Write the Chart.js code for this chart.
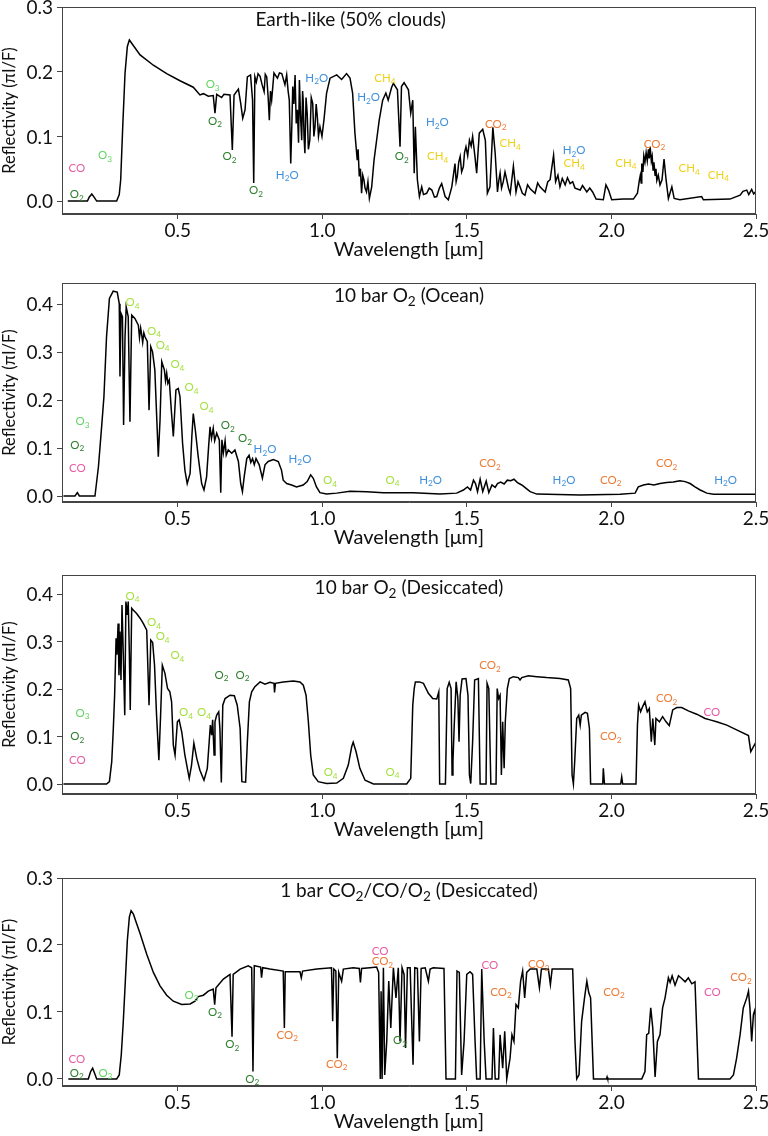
<!DOCTYPE html>
<html>
<head>
<meta charset="utf-8">
<script src="https://cdn.jsdelivr.net/npm/chart.js@4.4.0/dist/chart.umd.min.js"></script>
<style>
  body { margin: 0; background: #fff; }
  #wrap { position: relative; width: 768px; height: 1136px; overflow: hidden; }
  canvas { position: absolute; left: 0; }
</style>
</head>
<body>
<div id="wrap">
  <canvas id="c1" width="768" height="262" style="top:0px"></canvas>
  <canvas id="c2" width="768" height="277" style="top:273px"></canvas>
  <canvas id="c3" width="768" height="277" style="top:565px"></canvas>
  <canvas id="c4" width="768" height="266" style="top:868px"></canvas>
</div>
<script>
// wavelength ticks and reflectivity ticks
var xTicks = [0.5, 1.0, 1.5, 2.0, 2.5];
var yTicks3 = [0.0, 0.1, 0.2, 0.3];
var yTicks4 = [0.0, 0.1, 0.2, 0.3, 0.4];

// spectra: [wavelength (um), reflectivity]
var earthSpec = [[0.12,0],[0.188,0],[0.194,0.006],[0.203,0.011],[0.211,0.006],[0.22,0],[0.289,0],[0.298,0.01],[0.303,0.033],[0.31,0.115],[0.318,0.198],[0.326,0.239],[0.333,0.249],[0.341,0.244],[0.37,0.226],[0.416,0.21],[0.462,0.197],[0.508,0.186],[0.554,0.176],[0.577,0.164],[0.589,0.166],[0.606,0.162],[0.623,0.163],[0.629,0.136],[0.635,0.165],[0.652,0.16],[0.66,0.165],[0.681,0.164],[0.689,0.079],[0.695,0.164],[0.71,0.173],[0.718,0.151],[0.725,0.128],[0.733,0.141],[0.741,0.192],[0.752,0.195],[0.759,0.156],[0.763,0.028],[0.767,0.192],[0.772,0.184],[0.778,0.197],[0.785,0.193],[0.792,0.18],[0.799,0.169],[0.803,0.196],[0.808,0.192],[0.813,0.16],[0.817,0.125],[0.821,0.17],[0.825,0.156],[0.833,0.198],[0.845,0.19],[0.852,0.198],[0.86,0.197],[0.871,0.18],[0.877,0.195],[0.882,0.17],[0.886,0.156],[0.891,0.058],[0.895,0.12],[0.898,0.177],[0.902,0.15],[0.906,0.195],[0.91,0.12],[0.914,0.141],[0.918,0.09],[0.921,0.187],[0.925,0.13],[0.929,0.094],[0.932,0.17],[0.934,0.156],[0.937,0.1],[0.94,0.074],[0.944,0.16],[0.948,0.135],[0.952,0.08],[0.957,0.094],[0.962,0.16],[0.967,0.151],[0.971,0.1],[0.975,0.115],[0.979,0.15],[0.983,0.13],[0.987,0.1],[0.992,0.115],[0.999,0.1],[1.006,0.126],[1.015,0.167],[1.027,0.19],[1.05,0.195],[1.067,0.188],[1.084,0.197],[1.096,0.19],[1.105,0.167],[1.113,0.105],[1.121,0.063],[1.124,0.08],[1.128,0.038],[1.132,0.05],[1.136,0.012],[1.14,0.04],[1.144,0.033],[1.148,0.02],[1.153,0.014],[1.158,0.03],[1.163,0.004],[1.171,0.022],[1.179,0.063],[1.188,0.094],[1.197,0.125],[1.209,0.156],[1.22,0.167],[1.228,0.156],[1.24,0.176],[1.246,0.182],[1.26,0.172],[1.269,0.084],[1.274,0.177],[1.283,0.183],[1.298,0.172],[1.306,0.136],[1.313,0.156],[1.318,0.043],[1.322,0.115],[1.329,0.033],[1.336,0.007],[1.344,0.022],[1.35,0.01],[1.361,0.012],[1.37,0.02],[1.379,0.017],[1.388,0.006],[1.396,0.007],[1.405,0.02],[1.413,0.027],[1.425,0.007],[1.436,0.002],[1.448,0.022],[1.459,0.058],[1.463,0.03],[1.467,0.038],[1.472,0.06],[1.477,0.069],[1.482,0.045],[1.488,0.053],[1.492,0.075],[1.497,0.084],[1.503,0.07],[1.509,0.094],[1.515,0.085],[1.52,0.1],[1.528,0.069],[1.534,0.043],[1.543,0.105],[1.555,0.111],[1.564,0.094],[1.571,0.012],[1.58,0.022],[1.59,0.114],[1.598,0.074],[1.606,0.014],[1.61,0.03],[1.615,0.043],[1.62,0.02],[1.626,0.03],[1.632,0.045],[1.638,0.033],[1.644,0.02],[1.65,0.012],[1.661,0.054],[1.67,0.014],[1.677,0.03],[1.684,0.022],[1.692,0.012],[1.701,0.009],[1.71,0.025],[1.719,0.019],[1.736,0.012],[1.745,0.028],[1.753,0.022],[1.771,0.014],[1.78,0.03],[1.788,0.033],[1.8,0.071],[1.807,0.03],[1.815,0.04],[1.822,0.022],[1.83,0.035],[1.84,0.025],[1.848,0.036],[1.857,0.027],[1.866,0.03],[1.874,0.02],[1.892,0.017],[1.9,0.024],[1.915,0.014],[1.925,0.02],[1.935,0.014],[1.947,0.003],[1.972,0.002],[1.981,0.025],[1.99,0.017],[2.001,0.002],[2.041,0.003],[2.076,0.003],[2.09,0.012],[2.097,0.033],[2.1,0.04],[2.103,0.028],[2.105,0.058],[2.109,0.045],[2.112,0.07],[2.116,0.06],[2.12,0.075],[2.124,0.062],[2.128,0.08],[2.131,0.066],[2.134,0.084],[2.138,0.062],[2.141,0.069],[2.144,0.048],[2.147,0.06],[2.151,0.04],[2.154,0.05],[2.157,0.032],[2.162,0.04],[2.168,0.025],[2.175,0.033],[2.182,0.065],[2.189,0.033],[2.197,0.004],[2.209,0.022],[2.217,0.004],[2.237,0.002],[2.312,0.007],[2.318,0.002],[2.41,0.003],[2.445,0.009],[2.455,0.015],[2.468,0.017],[2.475,0.01],[2.485,0.018],[2.492,0.011],[2.5,0.015]];

var oceanSpec = [[0.105,0],[0.145,0],[0.153,0.007],[0.16,0],[0.214,0],[0.226,0.061],[0.237,0.144],[0.245,0.207],[0.254,0.332],[0.264,0.412],[0.277,0.427],[0.291,0.425],[0.298,0.401],[0.3005,0.249],[0.304,0.381],[0.309,0.374],[0.313,0.148],[0.318,0.332],[0.322,0.394],[0.329,0.374],[0.335,0.155],[0.341,0.377],[0.352,0.37],[0.364,0.356],[0.368,0.33],[0.372,0.35],[0.375,0.339],[0.379,0.32],[0.383,0.34],[0.387,0.332],[0.395,0.322],[0.401,0.179],[0.407,0.311],[0.413,0.301],[0.421,0.263],[0.427,0.172],[0.433,0.082],[0.439,0.158],[0.445,0.28],[0.454,0.263],[0.458,0.24],[0.462,0.256],[0.466,0.235],[0.471,0.242],[0.478,0.179],[0.485,0.124],[0.494,0.221],[0.502,0.224],[0.508,0.207],[0.517,0.11],[0.525,0.054],[0.533,0.026],[0.543,0.047],[0.549,0.124],[0.554,0.172],[0.561,0.138],[0.571,0.082],[0.583,0.026],[0.591,0.0125],[0.6,0.04],[0.607,0.103],[0.612,0.144],[0.617,0.12],[0.623,0.141],[0.628,0.115],[0.635,0.131],[0.644,0.117],[0.649,0.007],[0.653,0.117],[0.658,0.09],[0.664,0.115],[0.668,0.085],[0.675,0.096],[0.687,0.089],[0.698,0.096],[0.71,0.072],[0.718,0.026],[0.724,0.009],[0.73,0.04],[0.739,0.078],[0.747,0.085],[0.753,0.07],[0.759,0.078],[0.765,0.065],[0.771,0.078],[0.782,0.065],[0.793,0.037],[0.802,0.065],[0.813,0.072],[0.831,0.076],[0.848,0.072],[0.859,0.054],[0.865,0.033],[0.877,0.026],[0.894,0.023],[0.911,0.019],[0.934,0.023],[0.948,0.03],[0.96,0.044],[0.969,0.037],[0.98,0.019],[0.992,0.007],[1.015,0.004],[1.05,0.006],[1.096,0.01],[1.154,0.009],[1.211,0.007],[1.315,0.007],[1.407,0.004],[1.465,0.006],[1.488,0.0125],[1.502,0.019],[1.513,0.0125],[1.523,0.033],[1.53,0.026],[1.537,0.009],[1.546,0.035],[1.555,0.009],[1.567,0.031],[1.576,0.007],[1.587,0.023],[1.598,0.018],[1.606,0.026],[1.617,0.029],[1.629,0.025],[1.64,0.033],[1.652,0.032],[1.663,0.035],[1.675,0.028],[1.69,0.023],[1.705,0.016],[1.719,0.009],[1.742,0.004],[1.892,0.002],[2.03,0.0035],[2.082,0.006],[2.093,0.019],[2.111,0.023],[2.128,0.025],[2.147,0.023],[2.168,0.026],[2.191,0.028],[2.214,0.029],[2.237,0.032],[2.255,0.03],[2.272,0.026],[2.289,0.019],[2.307,0.0125],[2.33,0.006],[2.353,0.0035],[2.5,0.0035]];

var dryO2Spec = [[0.105,0],[0.254,0],[0.264,0.005],[0.272,0.047],[0.2775,0.117],[0.282,0.187],[0.287,0.307],[0.29,0.272],[0.294,0.338],[0.297,0.229],[0.3005,0.321],[0.304,0.219],[0.3075,0.377],[0.312,0.272],[0.317,0.145],[0.321,0.384],[0.326,0.356],[0.329,0.384],[0.333,0.272],[0.336,0.156],[0.341,0.37],[0.347,0.366],[0.358,0.359],[0.37,0.349],[0.381,0.338],[0.393,0.324],[0.401,0.166],[0.407,0.303],[0.4135,0.298],[0.42,0.25],[0.427,0.145],[0.435,0.05],[0.441,0.145],[0.447,0.25],[0.456,0.233],[0.465,0.201],[0.473,0.194],[0.479,0.173],[0.485,0.082],[0.491,0.061],[0.499,0.131],[0.505,0.135],[0.514,0.11],[0.525,0.061],[0.54,0.012],[0.548,0.04],[0.556,0.086],[0.566,0.054],[0.577,0.029],[0.591,0.008],[0.6025,0.033],[0.609,0.089],[0.613,0.124],[0.6175,0.103],[0.621,0.135],[0.626,0.061],[0.629,0.131],[0.635,0.145],[0.642,0.152],[0.646,0.117],[0.651,0.003],[0.656,0.166],[0.664,0.18],[0.681,0.187],[0.696,0.186],[0.706,0.166],[0.716,0.117],[0.722,0.005],[0.735,0.004],[0.741,0.089],[0.748,0.173],[0.756,0.194],[0.767,0.205],[0.785,0.215],[0.802,0.21],[0.819,0.214],[0.833,0.212],[0.835,0.193],[0.838,0.212],[0.865,0.215],[0.9,0.217],[0.923,0.215],[0.9345,0.208],[0.944,0.187],[0.952,0.131],[0.96,0.061],[0.969,0.019],[0.986,0.005],[1.015,0.001],[1.05,0.002],[1.073,0.012],[1.09,0.04],[1.102,0.079],[1.107,0.088],[1.117,0.068],[1.13,0.033],[1.148,0.008],[1.177,0],[1.292,0],[1.306,0.012],[1.313,0.166],[1.318,0.201],[1.322,0.215],[1.336,0.215],[1.35,0.212],[1.367,0.191],[1.382,0.18],[1.396,0.179],[1.403,0.194],[1.406,0],[1.426,0],[1.432,0.201],[1.439,0.214],[1.4455,0.201],[1.449,0.019],[1.452,0.047],[1.456,0.117],[1.463,0.215],[1.469,0.18],[1.473,0.089],[1.477,0.187],[1.4835,0.221],[1.497,0.222],[1.504,0.187],[1.509,0.019],[1.5135,0.001],[1.52,0.089],[1.527,0.219],[1.54,0.222],[1.546,0],[1.5665,0],[1.57,0.212],[1.576,0.201],[1.583,0],[1.601,0],[1.605,0.201],[1.61,0.18],[1.615,0.187],[1.6195,0.019],[1.624,0.131],[1.629,0.033],[1.633,0.131],[1.64,0.201],[1.647,0.222],[1.661,0.226],[1.678,0.224],[1.684,0.219],[1.69,0.224],[1.713,0.228],[1.742,0.226],[1.776,0.224],[1.822,0.222],[1.851,0.219],[1.859,0.201],[1.864,0.019],[1.8685,0],[1.873,0.047],[1.88,0.138],[1.887,0.145],[1.892,0.124],[1.896,0.145],[1.909,0.151],[1.917,0.149],[1.924,0.117],[1.928,0],[1.97,0],[1.972,0.033],[1.976,0],[2.032,0],[2.0356,0.015],[2.039,0],[2.085,0],[2.09,0.124],[2.094,0.166],[2.101,0.152],[2.108,0.163],[2.116,0.173],[2.124,0.152],[2.131,0.159],[2.138,0.089],[2.143,0.138],[2.15,0.082],[2.154,0.138],[2.166,0.131],[2.177,0.142],[2.189,0.131],[2.2,0.123],[2.212,0.156],[2.226,0.161],[2.243,0.161],[2.266,0.154],[2.295,0.147],[2.324,0.138],[2.341,0.135],[2.364,0.131],[2.399,0.124],[2.433,0.114],[2.474,0.102],[2.482,0.068],[2.489,0.076],[2.496,0.084],[2.5,0.079]];

var co2Spec = [[0.122,0],[0.191,0],[0.199,0.011],[0.206,0.016],[0.213,0.008],[0.22,0],[0.289,0],[0.298,0.006],[0.305,0.036],[0.312,0.086],[0.319,0.146],[0.326,0.207],[0.333,0.242],[0.339,0.251],[0.347,0.246],[0.358,0.232],[0.37,0.217],[0.393,0.186],[0.416,0.159],[0.439,0.139],[0.462,0.125],[0.485,0.116],[0.514,0.111],[0.543,0.112],[0.56,0.116],[0.571,0.123],[0.589,0.125],[0.606,0.131],[0.623,0.134],[0.628,0.111],[0.6325,0.136],[0.658,0.149],[0.681,0.156],[0.688,0.063],[0.692,0.156],[0.716,0.164],[0.744,0.169],[0.756,0.166],[0.7604,0.011],[0.765,0.169],[0.787,0.167],[0.79,0.151],[0.794,0.166],[0.819,0.164],[0.865,0.161],[0.869,0.076],[0.872,0.16],[0.923,0.16],[0.9275,0.151],[0.932,0.161],[0.981,0.164],[1.032,0.166],[1.036,0.086],[1.04,0.164],[1.047,0.161],[1.052,0.031],[1.057,0.159],[1.067,0.146],[1.073,0.164],[1.107,0.166],[1.128,0.165],[1.132,0.144],[1.136,0.165],[1.165,0.166],[1.188,0.167],[1.195,0.159],[1.2007,0],[1.2035,0.131],[1.207,0],[1.2115,0.166],[1.216,0.006],[1.223,0.056],[1.23,0.146],[1.237,0.076],[1.246,0.166],[1.255,0.121],[1.263,0.166],[1.269,0.056],[1.276,0.166],[1.283,0.156],[1.288,0.046],[1.2945,0.166],[1.304,0.166],[1.308,0.106],[1.314,0.021],[1.32,0.166],[1.329,0.165],[1.336,0.056],[1.342,0.165],[1.356,0.166],[1.367,0.146],[1.373,0.164],[1.384,0.166],[1.421,0.165],[1.428,0],[1.4605,0],[1.466,0.161],[1.474,0.159],[1.482,0.006],[1.4905,0.056],[1.4997,0.156],[1.511,0.16],[1.52,0.156],[1.5285,0.056],[1.534,0],[1.546,0],[1.5515,0.164],[1.56,0.056],[1.5665,0],[1.587,0],[1.592,0.076],[1.598,0],[1.61,0],[1.615,0.066],[1.624,0.016],[1.631,0.071],[1.638,0],[1.6495,0.031],[1.656,0.066],[1.663,0.056],[1.67,0.111],[1.678,0.106],[1.686,0.146],[1.693,0.161],[1.7,0.121],[1.707,0.159],[1.719,0.164],[1.742,0.164],[1.751,0.136],[1.758,0.164],[1.782,0.164],[1.789,0.141],[1.795,0.164],[1.866,0.164],[1.874,0.056],[1.88,0],[1.888,0.006],[1.897,0.086],[1.907,0.121],[1.915,0.146],[1.9215,0.129],[1.928,0.121],[1.938,0],[1.983,0],[1.985,0.003],[1.987,0],[2.105,0],[2.116,0.011],[2.122,0.066],[2.129,0.068],[2.136,0.106],[2.143,0.076],[2.151,0.003],[2.159,0.056],[2.168,0.066],[2.177,0.106],[2.1855,0.121],[2.197,0.151],[2.203,0.144],[2.21,0.154],[2.22,0.14],[2.232,0.154],[2.243,0.15],[2.255,0.145],[2.266,0.151],[2.278,0.142],[2.289,0.145],[2.301,0],[2.41,0],[2.422,0.006],[2.433,0.031],[2.445,0.066],[2.456,0.106],[2.468,0.121],[2.474,0.131],[2.479,0.106],[2.485,0.056],[2.491,0.096],[2.497,0.104],[2.5,0.056]];

// molecule labels: [wavelength, reflectivity, text]  ("_x" = subscript)
var earthLabels = [[0.151,0.051,'CO'],[0.249,0.07,'O_3'],[0.151,0.010,'O_2'],[0.621,0.18,'O_3'],[0.629,0.124,'O_2'],[0.679,0.069,'O_2'],[0.771,0.016,'O_2'],[0.879,0.04,'H_2O'],[0.981,0.19,'H_2O'],[1.16,0.16,'H_2O'],[1.217,0.19,'CH_4'],[1.275,0.069,'O_2'],[1.398,0.121,'H_2O'],[1.399,0.069,'CH_4'],[1.6,0.119,'CO_2'],[1.65,0.089,'CH_4'],[1.871,0.078,'H_2O'],[1.871,0.058,'CH_4'],[2.05,0.059,'CH_4'],[2.149,0.088,'CO_2'],[2.269,0.05,'CH_4'],[2.37,0.04,'CH_4']];
var oceanLabels = [[0.171,0.155,'O_3'],[0.153,0.106,'O_2'],[0.153,0.058,'CO'],[0.344,0.403,'O_4'],[0.418,0.344,'O_4'],[0.448,0.315,'O_4'],[0.499,0.274,'O_4'],[0.548,0.226,'O_4'],[0.6,0.186,'O_4'],[0.673,0.147,'O_2'],[0.733,0.12,'O_2'],[0.802,0.097,'H_2O'],[0.923,0.077,'H_2O'],[1.027,0.032,'O_4'],[1.243,0.033,'O_4'],[1.375,0.033,'H_2O'],[1.58,0.068,'CO_2'],[1.836,0.033,'H_2O'],[1.998,0.033,'CO_2'],[2.191,0.068,'CO_2'],[2.395,0.033,'H_2O']];
var dryO2Labels = [[0.171,0.149,'O_3'],[0.153,0.1,'O_2'],[0.153,0.05,'CO'],[0.344,0.396,'O_4'],[0.418,0.34,'O_4'],[0.448,0.31,'O_4'],[0.499,0.27,'O_4'],[0.652,0.229,'O_2'],[0.724,0.229,'O_2'],[0.529,0.15,'O_4'],[0.591,0.15,'O_4'],[1.029,0.024,'O_4'],[1.243,0.025,'O_4'],[1.58,0.249,'CO_2'],[1.998,0.1,'CO_2'],[2.191,0.18,'CO_2'],[2.347,0.151,'CO']];
var co2Labels = [[0.151,0.03,'CO'],[0.151,0.009,'O_2'],[0.25,0.009,'O_3'],[0.548,0.125,'O_3'],[0.629,0.1,'O_2'],[0.689,0.051,'O_2'],[0.758,0.0,'O_2'],[0.879,0.065,'CO_2'],[1.05,0.022,'CO_2'],[1.2,0.191,'CO'],[1.208,0.175,'CO_2'],[1.269,0.057,'O_2'],[1.58,0.17,'CO'],[1.618,0.13,'CO_2'],[1.749,0.171,'CO_2'],[2.009,0.13,'CO_2'],[2.349,0.13,'CO'],[2.448,0.151,'CO_2']];

var speciesColor = {
  'CO': '#e65ca2', 'O3': '#62d462', 'O2': '#2b7d2b', 'O4': '#a4e03e',
  'H2O': '#3f8fdc', 'CH4': '#efd11a', 'CO2': '#ec7a33'
};

var FONT = 'Lato, "DejaVu Sans", sans-serif';

function drawRich(ctx, str, cx, cy, size, color) {
  var parts = [];
  for (var i = 0; i < str.length; i++) {
    if (str[i] === '_') { parts.push({t: str[i+1], sub: true}); i++; }
    else if (parts.length && !parts[parts.length-1].sub) parts[parts.length-1].t += str[i];
    else parts.push({t: str[i], sub: false});
  }
  var w = 0;
  parts.forEach(function(p) {
    ctx.font = (p.sub ? size*0.72 : size) + 'px ' + FONT;
    p.w = ctx.measureText(p.t).width;
    w += p.w;
  });
  var x = cx - w/2;
  ctx.fillStyle = color;
  ctx.textAlign = 'left';
  ctx.textBaseline = 'middle';
  parts.forEach(function(p) {
    ctx.font = (p.sub ? size*0.72 : size) + 'px ' + FONT;
    ctx.fillText(p.t, x, p.sub ? cy + size*0.3 : cy);
    x += p.w;
  });
}

function makeChart(id, spec, labels, yTicks, yMin, yMax, title, titleFrac, padTop) {
  var overlay = {
    id: 'overlay' + id,
    afterDatasetsDraw: function(chart) {
      var ctx = chart.ctx, xs = chart.scales.x, ys = chart.scales.y;
      var a = chart.chartArea;
      ctx.save();
      labels.forEach(function(l) {
        drawRich(ctx, l[2], xs.getPixelForValue(l[0]), ys.getPixelForValue(l[1]), 11.5,
                 speciesColor[l[2].replace(/_/g, '')]);
      });
      drawRich(ctx, title, a.left + titleFrac*(a.right - a.left), a.top + 13, 19, '#111');
      // y tick labels, placed by the y scale
      ctx.font = '19px ' + FONT;
      ctx.fillStyle = '#111';
      ctx.textAlign = 'right';
      ctx.textBaseline = 'middle';
      yTicks.forEach(function(v) {
        ctx.fillText(v.toFixed(1), a.left - 9, ys.getPixelForValue(v) + 1);
      });
      ctx.strokeStyle = '#444';
      ctx.lineWidth = 1;
      ctx.strokeRect(a.left + 0.5, a.top + 0.5, a.right - a.left - 1, a.bottom - a.top - 1);
      ctx.restore();
    }
  };
  return new Chart(document.getElementById(id), {
    type: 'line',
    data: {
      datasets: [{
        data: spec.map(function(p) { return {x: p[0], y: p[1]}; }),
        borderColor: '#000',
        borderWidth: 1.5,
        pointRadius: 0,
        tension: 0,
        fill: false
      }]
    },
    options: {
      responsive: false,
      animation: false,
      devicePixelRatio: 1,
      layout: {padding: {top: padTop, right: 12, left: 0, bottom: 0}},
      plugins: {legend: {display: false}, tooltip: {enabled: false}},
      scales: {
        x: {
          type: 'linear', min: 0.1, max: 2.5,
          afterBuildTicks: function(s) { s.ticks = xTicks.map(function(v) { return {value: v}; }); },
          afterFit: function(s) { s.height = 48; s.paddingLeft = 0; s.paddingRight = 0; },
          ticks: {color: '#111', font: {family: FONT, size: 19, lineHeight: 1.0}, padding: 2, maxRotation: 0,
                  callback: function(v) { return v.toFixed(1); }},
          grid: {display: true, drawOnChartArea: false, drawTicks: true, tickLength: 5, color: '#444'},
          border: {display: true, color: '#444'},
          title: {display: true, text: 'Wavelength [μm]', color: '#111', font: {family: FONT, size: 20}, padding: 0}
        },
        y: {
          min: yMin, max: yMax,
          afterBuildTicks: function(s) { s.ticks = yTicks.map(function(v) { return {value: v}; }); },
          afterFit: function(s) { s.width = 62; s.paddingTop = 0; s.paddingBottom = 0; },
          ticks: {display: false},
          grid: {display: true, drawOnChartArea: false, drawTicks: true, tickLength: 5, color: '#444'},
          border: {display: true, color: '#444'},
          title: {display: true, text: 'Reflectivity (πI/F)', color: '#111', font: {family: FONT, size: 16.5}, padding: 0}
        }
      }
    },
    plugins: [overlay]
  });
}

makeChart('c1', earthSpec, earthLabels, yTicks3, -0.02, 0.3, 'Earth-like (50% clouds)', 0.416, 7);
makeChart('c2', oceanSpec, oceanLabels, yTicks4, -0.0125, 0.444, '10 bar O_2 (Ocean)', 0.5, 10);
makeChart('c3', dryO2Spec, dryO2Labels, yTicks4, -0.021, 0.44, '10 bar O_2 (Desiccated)', 0.5, 10);
makeChart('c4', co2Spec, co2Labels, yTicks3, -0.0106, 0.3, '1 bar CO_2/CO/O_2 (Desiccated)', 0.5, 10);
</script>
</body>
</html>
